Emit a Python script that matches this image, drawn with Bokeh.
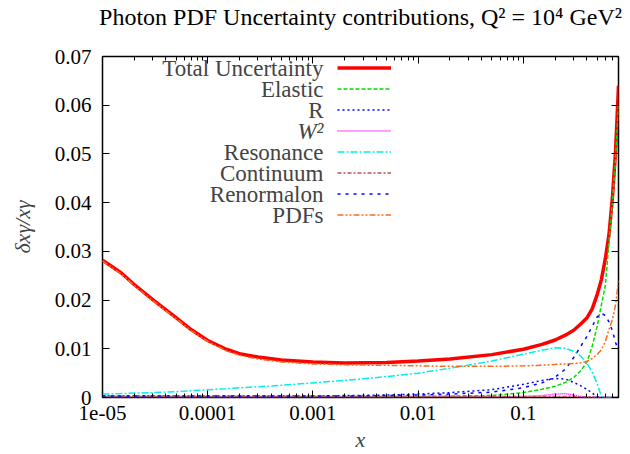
from bokeh.plotting import figure
from bokeh.models import (Range1d, FixedTicker, LogAxis, LinearAxis, Label, Legend,
                          LegendItem, CustomJSTickFormatter)
from bokeh.embed import file_html
from bokeh.resources import INLINE

# ---------------- data ----------------
x = [1e-5, 1.5e-5, 2e-5, 3e-5, 5e-5, 7e-5, 1e-4, 1.5e-4, 2e-4, 3e-4, 5e-4,
     1e-3, 2e-3, 5e-3, 0.01, 0.02, 0.05, 0.1, 0.15, 0.2, 0.25, 0.3, 0.35,
     0.4, 0.45, 0.5, 0.55, 0.6, 0.65, 0.7, 0.75, 0.8]

total = [0.0282, 0.0256, 0.0232, 0.0201, 0.0164, 0.0139, 0.0117, 0.0099, 0.0090,
         0.0083, 0.0077, 0.0073, 0.0071, 0.0072, 0.0075, 0.0079, 0.0088, 0.0099,
         0.0109, 0.0118, 0.0128, 0.0138, 0.0151, 0.0163, 0.0182, 0.0210, 0.0242,
         0.0285, 0.0335, 0.0410, 0.0505, 0.0640]
elastic = [0.0002, 0.0002, 0.0002, 0.0002, 0.0002, 0.0002, 0.0002, 0.0002, 0.0002,
           0.0002, 0.0002, 0.0002, 0.0002, 0.0002, 0.0002, 0.0003, 0.0004, 0.0010,
           0.0017, 0.0023, 0.0031, 0.0041, 0.0055, 0.0072, 0.0105, 0.0145, 0.0190,
           0.0230, 0.0320, 0.0400, 0.0490, 0.0600]
r_unc = [0.0003, 0.0003, 0.0003, 0.0003, 0.0003, 0.0003, 0.0003, 0.0003, 0.0003,
         0.0003, 0.0003, 0.0003, 0.0004, 0.0005, 0.0007, 0.0010, 0.0016, 0.0027,
         0.0035, 0.0039, 0.0038, 0.0031, 0.0024, 0.0017, 0.0009, 0.0002, 0.0,
         0.0, 0.0, 0.0, 0.0, 0.0]
w2 = [0.0001, 0.0001, 0.0001, 0.0001, 0.0001, 0.0001, 0.0001, 0.0001, 0.0001,
      0.0001, 0.0001, 0.0001, 0.0001, 0.0001, 0.0001, 0.0001, 0.0001, 0.0002,
      0.0004, 0.0007, 0.0008, 0.0005, 0.0002, 0.0, 0.0, 0.0, 0.0,
      0.0, 0.0, 0.0, 0.0, 0.0]
resonance = [0.0007, 0.0008, 0.0009, 0.0010, 0.0012, 0.0014, 0.0016, 0.0018, 0.0020,
             0.0022, 0.0025, 0.0030, 0.0035, 0.0043, 0.0050, 0.0060, 0.0075, 0.0089,
             0.0097, 0.0102, 0.0101, 0.0095, 0.0085, 0.0071, 0.0052, 0.0029, 0.0003,
             0.0, 0.0, 0.0, 0.0, 0.0]
continuum = [0.0002, 0.0002, 0.0002, 0.0002, 0.0002, 0.0002, 0.0002, 0.0002, 0.0002,
             0.0002, 0.0002, 0.0002, 0.0002, 0.0002, 0.0002, 0.0002, 0.0002, 0.0002,
             0.0002, 0.0002, 0.0002, 0.0002, 0.0001, 0.0001, 0.0001, 0.0, 0.0,
             0.0, 0.0, 0.0, 0.0, 0.0]
renormalon = [0.0003, 0.0003, 0.0003, 0.0003, 0.0003, 0.0003, 0.0003, 0.0003, 0.0003,
              0.0003, 0.0003, 0.0003, 0.0003, 0.0004, 0.0005, 0.0007, 0.0011, 0.0020,
              0.0030, 0.0042, 0.0058, 0.0082, 0.0105, 0.0125, 0.0146, 0.0165, 0.0173,
              0.0168, 0.0155, 0.0137, 0.0113, 0.0097]
pdfs = [0.0280, 0.0254, 0.0230, 0.0199, 0.0162, 0.0137, 0.0115, 0.0096, 0.0087,
        0.0079, 0.0073, 0.0069, 0.0067, 0.0066, 0.0065, 0.0064, 0.0064, 0.0065,
        0.0066, 0.0068, 0.0069, 0.0070, 0.0071, 0.0074, 0.0080, 0.0088, 0.0098,
        0.0115, 0.0140, 0.0160, 0.0190, 0.0240]

series_names = ["Total Uncertainty", "Elastic", "R", "W²", "Resonance",
                "Continuum", "Renormalon", "PDFs"]

xtick_values = [1e-5, 1e-4, 1e-3, 1e-2, 1e-1]
xtick_labels = ["1e-05", "0.0001", "0.001", "0.01", "0.1"]
xminor_values = [m * d for d in [1e-5, 1e-4, 1e-3, 1e-2, 1e-1] for m in range(2, 10)
                 if m * d <= 0.8]
ytick_values = [0.0, 0.01, 0.02, 0.03, 0.04, 0.05, 0.06, 0.07]
ytick_labels = ["0", "0.01", "0.02", "0.03", "0.04", "0.05", "0.06", "0.07"]

title_text = "Photon PDF Uncertainty contributions, Q² = 10⁴ GeV²"
ylabel_text = "δxγ/xγ"
xlabel_text = "x"

# ---------------- styles ----------------
FONT = "Liberation Serif"
TEXT_SIZE = "23px"
TICK_SIZE = "21px"
styles = [
    dict(color="#ff0000", line_width=3.5, line_dash="solid"),
    dict(color="#00dd00", line_width=1.5, line_dash="4 2"),
    dict(color="#0000ff", line_width=1.5, line_dash="2 3"),
    dict(color="#ff00ff", line_width=1.5, line_dash="1 1"),
    dict(color="#00eeee", line_width=1.5, line_dash="7 2 2 2"),
    dict(color="#c0504d", line_width=1.5, line_dash="4 2 2 2"),
    dict(color="#0000ff", line_width=1.5, line_dash="3 5"),
    dict(color="#ff6a1a", line_width=1.5, line_dash="6 2 2 2 2 2"),
]

W, H = 626, 454
p = figure(width=W, height=H, x_axis_type="log",
           x_range=Range1d(1e-5, 0.8), y_range=Range1d(0, 0.07),
           output_backend="svg", toolbar_location=None,
           min_border_left=102, min_border_right=8, min_border_top=55,
           min_border_bottom=57)
p.background_fill_color = "white"
p.border_fill_color = "white"
p.outline_line_color = "black"
p.outline_line_width = 1.5
p.grid.visible = False
p.title.visible = False

xfmt = CustomJSTickFormatter(args=dict(vals=xtick_values, labs=xtick_labels), code="""
let best = 0, bd = 1e9;
for (let i = 0; i < vals.length; i++) {
  const d = Math.abs(Math.log10(vals[i]) - Math.log10(tick));
  if (d < bd) { bd = d; best = i; }
}
return labs[best];
""")
yfmt = CustomJSTickFormatter(args=dict(vals=ytick_values, labs=ytick_labels), code="""
for (let i = 0; i < vals.length; i++) {
  if (Math.abs(vals[i] - tick) < 1e-9) return labs[i];
}
return '';
""")
blank = CustomJSTickFormatter(code="return '';")

xt = FixedTicker(ticks=xtick_values, minor_ticks=xminor_values)
yt = FixedTicker(ticks=ytick_values)

def style_axis(ax):
    ax.major_tick_in = 7
    ax.major_tick_out = 0
    ax.minor_tick_in = 4
    ax.minor_tick_out = 0
    ax.axis_line_color = None
    ax.major_tick_line_color = "black"
    ax.minor_tick_line_color = "black"
    ax.major_label_text_font = FONT
    ax.major_label_text_font_size = TICK_SIZE
    ax.major_label_text_color = "black"

xa = p.xaxis[0]
xa.ticker = xt
xa.formatter = xfmt
style_axis(xa)
xa.major_label_standoff = 8
xa.axis_label = xlabel_text
xa.axis_label_text_font = FONT
xa.axis_label_text_font_size = "22px"
xa.axis_label_text_font_style = "italic"
xa.axis_label_standoff = 4

ya = p.yaxis[0]
ya.ticker = yt
ya.formatter = yfmt
style_axis(ya)
ya.minor_tick_in = 0
ya.major_label_standoff = 11
ya.axis_label = ylabel_text
ya.axis_label_text_font = FONT
ya.axis_label_text_font_size = "22px"
ya.axis_label_text_font_style = "italic"
ya.axis_label_standoff = 17

# top mirror axis carries the plot title as its label
top = LogAxis(ticker=xt, formatter=blank)
style_axis(top)
top.major_label_text_font_size = "0px"
top.major_label_standoff = 0
top.axis_label = title_text
top.axis_label_text_font = FONT
top.axis_label_text_font_size = "24px"
top.axis_label_text_font_style = "normal"
top.axis_label_text_color = "black"
top.axis_label_standoff = 27
p.add_layout(top, "above")

right = LinearAxis(ticker=yt, formatter=blank)
style_axis(right)
right.minor_tick_in = 0
right.major_label_text_font_size = "0px"
right.major_label_standoff = 0
p.add_layout(right, "right")

# ---------------- lines ----------------
all_series = [total, elastic, r_unc, w2, resonance, continuum, renormalon, pdfs]
renderers = []
for ys, st in zip(all_series, styles):
    r = p.line(x, ys, line_color=st["color"], line_width=st["line_width"],
               line_dash=st["line_dash"])
    renderers.append(r)

# ---------------- legend (samples) + labels ----------------
row_h = 21
leg_x, leg_y = 235, 172
legend = Legend(items=[LegendItem(label=" ", renderers=[r]) for r in renderers],
                location=(leg_x, leg_y), glyph_width=54, glyph_height=row_h,
                label_width=0, label_height=row_h, label_standoff=0, spacing=0,
                padding=0, margin=0, border_line_color=None,
                background_fill_alpha=0, label_text_font_size="1px")
p.add_layout(legend)

for i, name in enumerate(series_names):
    p.add_layout(Label(x=leg_x - 14, y=leg_y + (len(series_names) - i - 0.5) * row_h,
                       x_units="screen", y_units="screen", text=name,
                       text_align="right", text_baseline="middle",
                       text_font=FONT, text_font_size=TEXT_SIZE,
                       text_font_style="italic" if name == "W²" else "normal"))

open("out.html", "w").write(file_html(p, INLINE))
